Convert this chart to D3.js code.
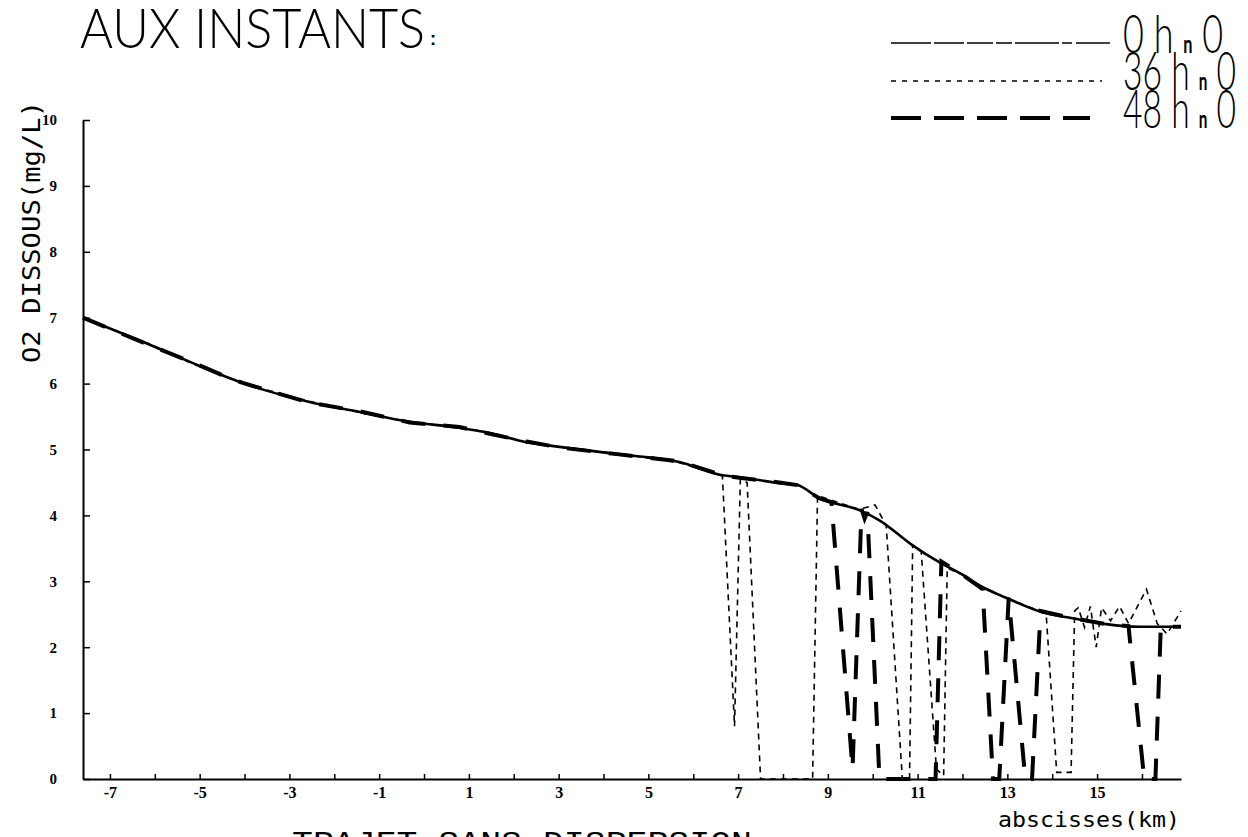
<!DOCTYPE html>
<html><head><meta charset="utf-8">
<script src="https://cdn.jsdelivr.net/npm/d3@7"></script>
<style>body{margin:0;background:#fff}svg{display:block}</style>
</head><body>
<svg id="c" width="1248" height="837"></svg>
<script>
// ---- data ----
const xs0  = [-7.6,-6.11,-5.15,-4.4,-4.04,-2.55,-1.43,-0.32,0.79,1.46,2.29,3.02,4.3,5.69,6.65,7.03,7.92,8.32,8.81,9.7,10.14,10.88,11.48,12.0,12.37,12.97,13.78,14.45,15.2,15.94,16.87];
const ys0  = [7.0,6.59,6.31,6.1,6.01,5.72,5.57,5.42,5.33,5.25,5.11,5.04,4.93,4.81,4.61,4.58,4.49,4.46,4.26,4.08,3.93,3.55,3.29,3.1,2.94,2.75,2.53,2.44,2.35,2.31,2.31];

const xs36 = [-7.6,-6.11,-5.15,-4.4,-4.04,-2.55,-1.43,-0.32,0.79,1.46,2.29,3.02,4.3,5.69,6.65,6.92,7.05,7.2,7.5,8.66,8.77,9.7,10.05,10.3,10.66,10.82,10.89,11.08,11.42,11.58,11.66,12.0,12.37,12.97,13.78,13.87,14.1,14.42,14.5,14.58,14.72,14.85,14.98,15.1,15.3,15.5,15.7,16.1,16.34,16.56,16.87];
const ys36 = [7.0,6.6,6.3,6.1,6.0,5.73,5.56,5.42,5.33,5.26,5.1,5.04,4.94,4.8,4.6,0.8,4.55,4.5,0,0,4.3,4.09,4.16,3.85,0,0,3.55,3.45,0.15,0.05,3.2,3.1,2.94,2.75,2.53,2.45,0.1,0.1,2.55,2.6,2.3,2.62,2.0,2.6,2.4,2.62,2.36,2.88,2.36,2.2,2.55];

const xs48 = [-7.6,-6.11,-5.15,-4.4,-4.04,-2.55,-1.43,-0.32,0.79,1.46,2.29,3.02,4.3,5.69,6.65,7.03,7.92,8.32,8.81,9.08,9.55,9.75,9.82,9.88,10.15,11.4,11.53,12.0,12.45,12.68,12.82,13.03,13.4,13.55,13.74,14.45,15.2,15.7,16.05,16.3,16.42,16.87];
const ys48 = [7.0,6.58,6.32,6.1,6.01,5.71,5.58,5.41,5.34,5.24,5.12,5.03,4.93,4.82,4.61,4.57,4.5,4.46,4.26,4.2,0.15,4.1,3.95,4.05,0,0,3.3,3.1,2.88,0,0,2.75,0,0,2.55,2.44,2.35,2.32,0,0,2.31,2.31];

const yTickValues = [0,1,2,3,4,5,6,7,8,9,10];
const xTickValues = [-7,-6,-5,-4,-3,-2,-1,0,1,2,3,4,5,6,7,8,9,10,11,12,13,14,15,16];
const xTickLabels = [-7,-5,-3,-1,1,3,5,7,9,11,13,15];
const legendHours = ["0", "36", "48"];

const titleText = "AUX INSTANTS";
const yTitle = "O2 DISSOUS(mg/L)";
const xTitle = "abscisses(km)";
const bottomText = "TRAJET SANS DISPERSION";

// ---- drawing ----
const svg = d3.select("#c");
svg.append("rect").attr("width",1248).attr("height",837).attr("fill","#fff");

const x = d3.scaleLinear().domain([-7.6,16.87]).range([83,1181]);
const y = d3.scaleLinear().domain([0,10]).range([779,120]);

// axes
const xAxis = d3.axisBottom(x).tickValues(xTickValues).tickSizeInner(-5).tickSizeOuter(0)
  .tickPadding(8).tickFormat(d => xTickLabels.includes(d) ? String(d) : "");
const gx = svg.append("g").attr("transform","translate(0,779)").call(xAxis);
const yAxis = d3.axisLeft(y).tickValues(yTickValues).tickSizeInner(-7).tickSizeOuter(0).tickPadding(26);
const gy = svg.append("g").attr("transform","translate(83,0)").call(yAxis);
[gx,gy].forEach(g => {
  g.select(".domain").attr("stroke","#000").attr("stroke-width",2);
  g.selectAll(".tick line").attr("stroke","#000").attr("stroke-width",1.5);
  g.selectAll(".tick text").attr("fill","#000").attr("font-family","Liberation Serif, serif")
    .attr("font-weight","bold").attr("font-size",16);
});
gy.selectAll(".tick text").attr("font-size",15);

// series
const line = d3.line().x(d => x(d[0])).y(d => y(d[1]));
const lineSmooth = d3.line().x(d => x(d[0])).y(d => y(d[1])).curve(d3.curveMonotoneX);

svg.append("path").datum(d3.zip(xs48, ys48)).attr("d", line)
  .attr("fill","none").attr("stroke","#000").attr("stroke-width",4).attr("stroke-dasharray","24,18");
svg.append("path").datum(d3.zip(xs36, ys36)).attr("d", line)
  .attr("fill","none").attr("stroke","#000").attr("stroke-width",1.6).attr("stroke-dasharray","6,5");
svg.append("path").datum(d3.zip(xs0, ys0)).attr("d", lineSmooth)
  .attr("fill","none").attr("stroke","#000").attr("stroke-width",2.6);

// title
svg.append("text").attr("x",80).attr("y",48).attr("font-family","Lato, sans-serif").attr("font-weight",300)
  .attr("font-size",55).attr("textLength",345).attr("lengthAdjust","spacingAndGlyphs").text(titleText);
svg.append("text").attr("x",430).attr("y",45).attr("font-family","Liberation Sans, sans-serif").attr("font-weight","bold")
  .attr("font-size",18).text(":");

// legend
const legY = [43, 81, 118];
const legDash = ["40,3,30,3,26,3,16,3,44,3,10,4", "5,6", "30,13"];
const legW = [1.6, 1.4, 4];
const legEnd = [1110, 1102, 1090];
const legBase = [53, 90, 128];
const legLen = [100, 113, 113];
legendHours.forEach((h,i) => {
  svg.append("line").attr("x1",891).attr("x2",legEnd[i]).attr("y1",legY[i]).attr("y2",legY[i])
    .attr("stroke","#000").attr("stroke-width",legW[i]).attr("stroke-dasharray",legDash[i]);
  const t = svg.append("text").attr("x",1123).attr("y",legBase[i]).attr("font-family","Lato, sans-serif")
    .attr("font-weight",300).attr("font-size",53).attr("textLength",legLen[i]).attr("lengthAdjust","spacingAndGlyphs");
  t.append("tspan").text(h + " h ");
  t.append("tspan").attr("font-size",24).attr("font-weight","bold").text("n");
  t.append("tspan").text(" 0");
});

// y title
svg.append("text").attr("transform","translate(40,232) rotate(-90)").attr("text-anchor","middle")
  .attr("font-family","DejaVu Sans Mono, monospace").attr("font-size",24)
  .attr("textLength",262).attr("lengthAdjust","spacingAndGlyphs").text(yTitle);

// x title
svg.append("text").attr("x",998).attr("y",827).attr("font-family","DejaVu Sans Mono, monospace")
  .attr("font-size",22).attr("textLength",182).attr("lengthAdjust","spacingAndGlyphs").text(xTitle);

// bottom caption (cut by page edge)
svg.append("text").attr("x",292).attr("y",852).attr("font-family","Liberation Mono, monospace")
  .attr("font-size",30).attr("textLength",460).attr("lengthAdjust","spacingAndGlyphs").text(bottomText);
</script>
</body></html>
